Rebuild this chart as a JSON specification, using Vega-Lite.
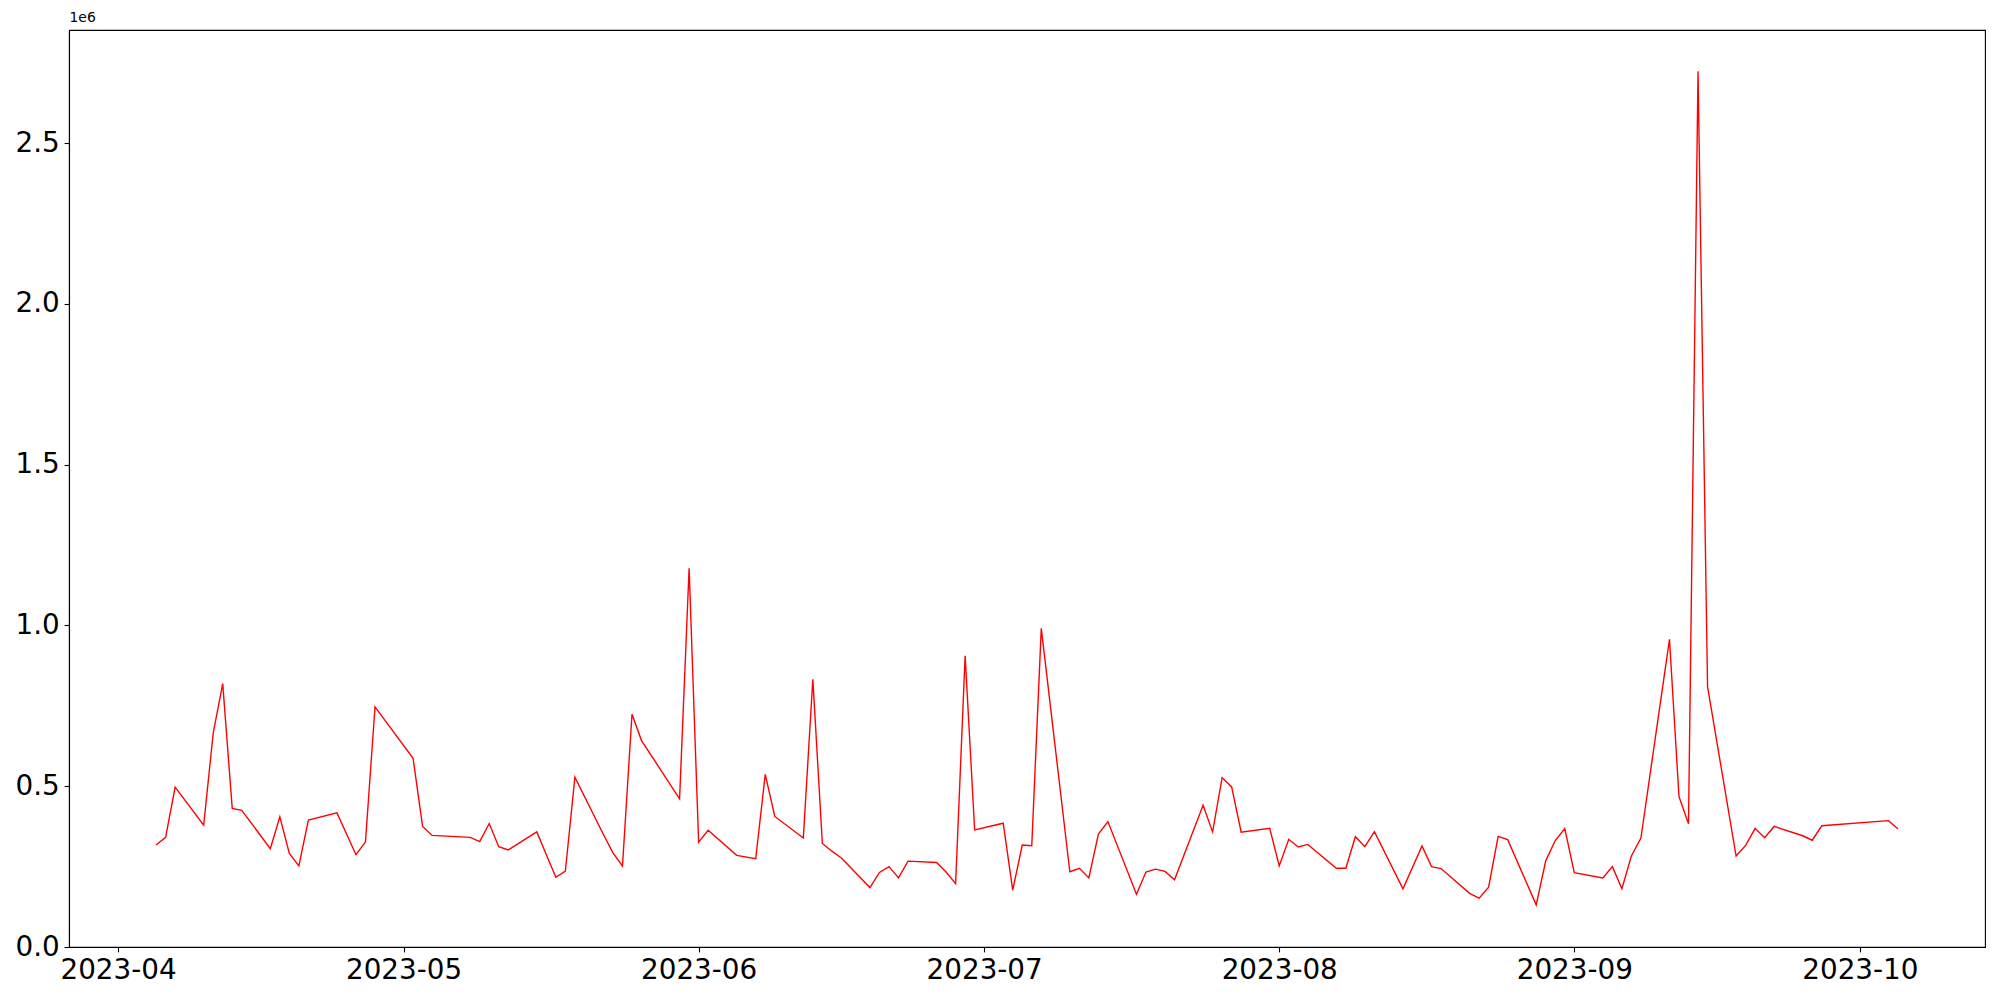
{
  "$schema": "https://vega.github.io/schema/vega-lite/v6.json",
  "autosize": "none",
  "width": 1916,
  "height": 917,
  "padding": {"left": 69, "top": 30, "right": 15, "bottom": 53},
  "background": "white",
  "config": {
    "view": {"stroke": "black", "strokeWidth": 1.1},
    "axis": {
      "grid": false,
      "domainColor": "black",
      "domainWidth": 1.1,
      "tickColor": "black",
      "tickWidth": 1.1,
      "tickSize": 4.9,
      "labelColor": "black",
      "labelFont": "DejaVu Sans",
      "labelFontSize": 27.8,
      "labelPadding": 4.9,
      "labelOverlap": false,
      "labelFlush": false
    }
  },
  "data": {
    "values": [
      {"date": "2023-04-05", "value": 317000},
      {"date": "2023-04-06", "value": 341000},
      {"date": "2023-04-07", "value": 497000},
      {"date": "2023-04-10", "value": 379000},
      {"date": "2023-04-11", "value": 665000},
      {"date": "2023-04-12", "value": 819000},
      {"date": "2023-04-13", "value": 431000},
      {"date": "2023-04-14", "value": 425000},
      {"date": "2023-04-17", "value": 306000},
      {"date": "2023-04-18", "value": 405000},
      {"date": "2023-04-19", "value": 291000},
      {"date": "2023-04-20", "value": 252000},
      {"date": "2023-04-21", "value": 395000},
      {"date": "2023-04-24", "value": 417000},
      {"date": "2023-04-25", "value": 352000},
      {"date": "2023-04-26", "value": 287000},
      {"date": "2023-04-27", "value": 327000},
      {"date": "2023-04-28", "value": 747000},
      {"date": "2023-05-02", "value": 587000},
      {"date": "2023-05-03", "value": 375000},
      {"date": "2023-05-04", "value": 347000},
      {"date": "2023-05-08", "value": 341000},
      {"date": "2023-05-09", "value": 328000},
      {"date": "2023-05-10", "value": 384000},
      {"date": "2023-05-11", "value": 312000},
      {"date": "2023-05-12", "value": 302000},
      {"date": "2023-05-15", "value": 358000},
      {"date": "2023-05-16", "value": 287000},
      {"date": "2023-05-17", "value": 217000},
      {"date": "2023-05-18", "value": 236000},
      {"date": "2023-05-19", "value": 528000},
      {"date": "2023-05-22", "value": 350000},
      {"date": "2023-05-23", "value": 293000},
      {"date": "2023-05-24", "value": 252000},
      {"date": "2023-05-25", "value": 724000},
      {"date": "2023-05-26", "value": 642000},
      {"date": "2023-05-30", "value": 461000},
      {"date": "2023-05-31", "value": 1178000},
      {"date": "2023-06-01", "value": 326000},
      {"date": "2023-06-02", "value": 363000},
      {"date": "2023-06-05", "value": 285000},
      {"date": "2023-06-07", "value": 275000},
      {"date": "2023-06-08", "value": 537000},
      {"date": "2023-06-09", "value": 406000},
      {"date": "2023-06-12", "value": 339000},
      {"date": "2023-06-13", "value": 833000},
      {"date": "2023-06-14", "value": 322000},
      {"date": "2023-06-15", "value": 298000},
      {"date": "2023-06-16", "value": 277000},
      {"date": "2023-06-19", "value": 185000},
      {"date": "2023-06-20", "value": 232000},
      {"date": "2023-06-21", "value": 250000},
      {"date": "2023-06-22", "value": 215000},
      {"date": "2023-06-23", "value": 267000},
      {"date": "2023-06-26", "value": 263000},
      {"date": "2023-06-27", "value": 233000},
      {"date": "2023-06-28", "value": 197000},
      {"date": "2023-06-29", "value": 906000},
      {"date": "2023-06-30", "value": 364000},
      {"date": "2023-07-03", "value": 385000},
      {"date": "2023-07-04", "value": 177000},
      {"date": "2023-07-05", "value": 317000},
      {"date": "2023-07-06", "value": 315000},
      {"date": "2023-07-07", "value": 991000},
      {"date": "2023-07-10", "value": 234000},
      {"date": "2023-07-11", "value": 245000},
      {"date": "2023-07-12", "value": 215000},
      {"date": "2023-07-13", "value": 351000},
      {"date": "2023-07-14", "value": 390000},
      {"date": "2023-07-17", "value": 164000},
      {"date": "2023-07-18", "value": 233000},
      {"date": "2023-07-19", "value": 242000},
      {"date": "2023-07-20", "value": 235000},
      {"date": "2023-07-21", "value": 209000},
      {"date": "2023-07-24", "value": 441000},
      {"date": "2023-07-25", "value": 358000},
      {"date": "2023-07-26", "value": 527000},
      {"date": "2023-07-27", "value": 498000},
      {"date": "2023-07-28", "value": 357000},
      {"date": "2023-07-31", "value": 369000},
      {"date": "2023-08-01", "value": 252000},
      {"date": "2023-08-02", "value": 335000},
      {"date": "2023-08-03", "value": 311000},
      {"date": "2023-08-04", "value": 319000},
      {"date": "2023-08-07", "value": 245000},
      {"date": "2023-08-08", "value": 245000},
      {"date": "2023-08-09", "value": 343000},
      {"date": "2023-08-10", "value": 312000},
      {"date": "2023-08-11", "value": 359000},
      {"date": "2023-08-14", "value": 181000},
      {"date": "2023-08-16", "value": 314000},
      {"date": "2023-08-17", "value": 250000},
      {"date": "2023-08-18", "value": 244000},
      {"date": "2023-08-21", "value": 167000},
      {"date": "2023-08-22", "value": 152000},
      {"date": "2023-08-23", "value": 186000},
      {"date": "2023-08-24", "value": 344000},
      {"date": "2023-08-25", "value": 334000},
      {"date": "2023-08-28", "value": 131000},
      {"date": "2023-08-29", "value": 268000},
      {"date": "2023-08-30", "value": 331000},
      {"date": "2023-08-31", "value": 368000},
      {"date": "2023-09-01", "value": 231000},
      {"date": "2023-09-04", "value": 215000},
      {"date": "2023-09-05", "value": 250000},
      {"date": "2023-09-06", "value": 181000},
      {"date": "2023-09-07", "value": 283000},
      {"date": "2023-09-08", "value": 339000},
      {"date": "2023-09-11", "value": 957000},
      {"date": "2023-09-12", "value": 468000},
      {"date": "2023-09-13", "value": 383000},
      {"date": "2023-09-14", "value": 2724000},
      {"date": "2023-09-15", "value": 810000},
      {"date": "2023-09-18", "value": 283000},
      {"date": "2023-09-19", "value": 316000},
      {"date": "2023-09-20", "value": 369000},
      {"date": "2023-09-21", "value": 340000},
      {"date": "2023-09-22", "value": 375000},
      {"date": "2023-09-25", "value": 346000},
      {"date": "2023-09-26", "value": 332000},
      {"date": "2023-09-27", "value": 377000},
      {"date": "2023-10-04", "value": 393000},
      {"date": "2023-10-05", "value": 368000}
    ]
  },
  "mark": {"type": "line", "color": "#ff0000", "strokeWidth": 1.39, "clip": true},
  "encoding": {
    "x": {
      "field": "date",
      "type": "temporal",
      "scale": {
        "type": "utc",
        "domain": [
          {"year": 2023, "month": 3, "date": 26, "hours": 20, "minutes": 24, "utc": true},
          {"year": 2023, "month": 10, "date": 14, "hours": 3, "minutes": 36, "utc": true}
        ]
      },
      "axis": {
        "title": null,
        "format": "%Y-%m",
        "values": [
          {"year": 2023, "month": 4, "date": 1, "utc": true},
          {"year": 2023, "month": 5, "date": 1, "utc": true},
          {"year": 2023, "month": 6, "date": 1, "utc": true},
          {"year": 2023, "month": 7, "date": 1, "utc": true},
          {"year": 2023, "month": 8, "date": 1, "utc": true},
          {"year": 2023, "month": 9, "date": 1, "utc": true},
          {"year": 2023, "month": 10, "date": 1, "utc": true}
        ]
      }
    },
    "y": {
      "field": "value",
      "type": "quantitative",
      "scale": {"domain": [0, 2852000], "nice": false, "zero": true},
      "axis": {
        "values": [0, 500000, 1000000, 1500000, 2000000, 2500000],
        "labelExpr": "format(datum.value / 1000000, '.1f')",
        "title": "1e6",
        "titleAngle": 0,
        "titleX": 0,
        "titleY": -6,
        "titleAlign": "left",
        "titleBaseline": "bottom",
        "titleFont": "DejaVu Sans",
        "titleFontSize": 13.9,
        "titleFontWeight": "normal",
        "titleColor": "black"
      }
    }
  }
}
